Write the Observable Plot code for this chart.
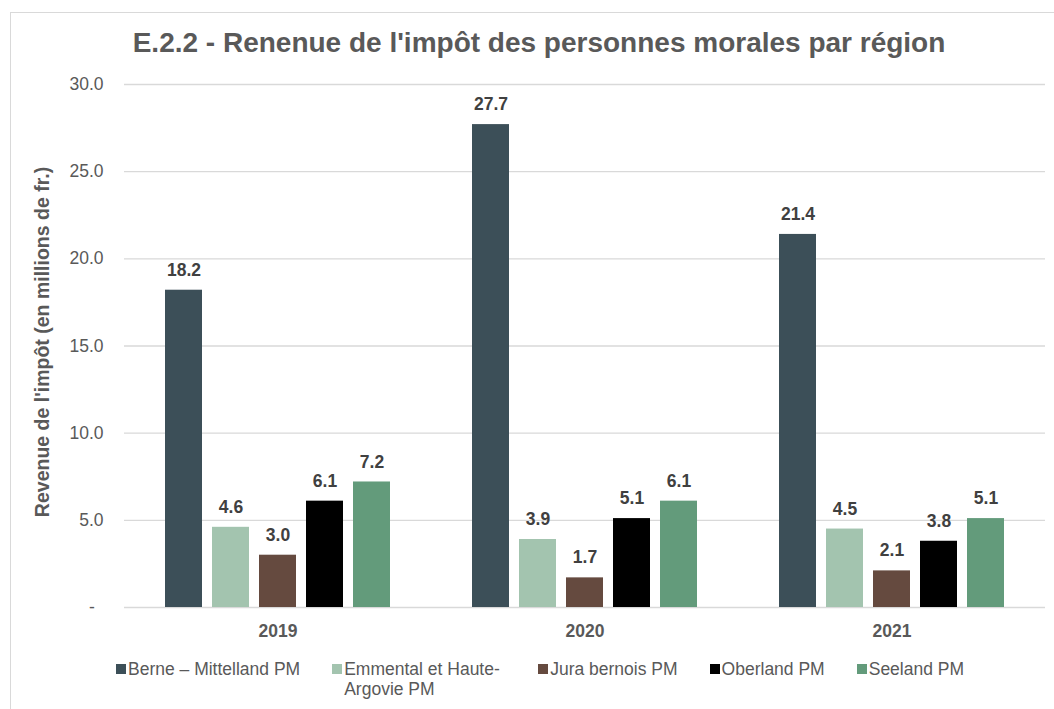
<!DOCTYPE html>
<html><head><meta charset="utf-8">
<script src="https://cdn.jsdelivr.net/npm/d3@7"></script>
<script src="https://cdn.jsdelivr.net/npm/@observablehq/plot@0.6"></script>
<style>
html,body{margin:0;padding:0;background:#fff;overflow:hidden;}
body{width:1054px;height:709px;position:relative;font-family:"Liberation Sans",Arial,sans-serif;}
#frame{position:absolute;left:10px;top:12px;width:1100px;height:760px;border:1.5px solid #d9d9d9;box-sizing:border-box;}
#title{position:absolute;left:0;width:1078px;top:27px;line-height:32px;text-align:center;font-weight:bold;font-size:28px;color:#595959;}
#chart{position:absolute;left:0;top:0;}
#ylabel{position:absolute;left:42px;top:342px;transform:translate(-50%,-50%) rotate(-90deg);white-space:nowrap;font-weight:bold;font-size:19.5px;color:#595959;}
#legend{position:absolute;left:116px;top:659px;display:flex;align-items:flex-start;font-size:17.5px;color:#595959;line-height:20px;}
.item{display:flex;align-items:flex-start;margin-right:32px;}
.item.wrap .txt{min-width:162px;}
.sw{width:10px;height:10px;margin-top:5px;margin-right:2px;flex:none;}
</style></head>
<body>
<div id="frame"></div>
<div id="chart"></div>
<div id="title">E.2.2 - Renenue de l'impôt des personnes morales par région</div>
<div id="ylabel"></div>
<div id="legend"></div>
<script>
const years = ["2019", "2020", "2021"];
const regions = ["Berne – Mittelland PM", "Emmental et Haute-Argovie PM", "Jura bernois PM", "Oberland PM", "Seeland PM"];
const legendLabels = ["Berne – Mittelland PM", "Emmental et Haute-<br>Argovie PM", "Jura bernois PM", "Oberland PM", "Seeland PM"];
const colors = ["#3c4f58", "#a3c4af", "#654a3f", "#000000", "#639b7b"];
const values2019 = [18.2, 4.6, 3.0, 6.1, 7.2];
const values2020 = [27.7, 3.9, 1.7, 5.1, 6.1];
const values2021 = [21.4, 4.5, 2.1, 3.8, 5.1];
const yTicks = [0, 5, 10, 15, 20, 25, 30];
const yLabel = "Revenue de l'impôt (en millions de fr.)";

const series = [values2019, values2020, values2021];
const data = [];
years.forEach((y, i) => regions.forEach((r, j) => data.push({year: y, region: r, value: series[i][j]})));

const chart = Plot.plot({
  width: 1054,
  height: 640,
  marginTop: 84,
  marginBottom: 33,
  marginLeft: 124,
  marginRight: 9,
  style: {fontFamily: "Liberation Sans, Arial, sans-serif", fontSize: "17.5px", color: "#595959", background: "transparent"},
  fx: {domain: years, padding: 0, label: null},
  x: {domain: regions, paddingInner: 0.21, paddingOuter: 0.87, axis: null},
  y: {domain: [0, 30], label: null},
  color: {domain: regions, range: colors},
  marks: [
    Plot.gridY(yTicks, {stroke: "#d9d9d9", strokeOpacity: 1, strokeWidth: 1.3}),
    Plot.axisY(yTicks, {tickSize: 0, tickPadding: 21, tickFormat: d => d === 0 ? "-\u2002" : d.toFixed(1), fontSize: 17.5, fill: "#595959", label: null}),
    Plot.axisFx({anchor: "bottom", tickSize: 0, tickPadding: 17, fontWeight: "bold", fontSize: 17.5, fill: "#595959", label: null}),
    Plot.barY(data, {fx: "year", x: "region", y: "value", fill: "region"}),
    Plot.text(data, {fx: "year", x: "region", y: "value", text: d => d.value.toFixed(1), dy: -20, fontWeight: "bold", fontSize: 17.5, fill: "#404040"})
  ]
});
document.getElementById("chart").appendChild(chart);
document.getElementById("ylabel").textContent = yLabel;

const lg = document.getElementById("legend");
regions.forEach((r, i) => {
  const it = document.createElement("div");
  it.className = "item" + (legendLabels[i].includes("<br>") ? " wrap" : "");
  it.innerHTML = `<div class="sw" style="background:${colors[i]}"></div><div class="txt">${legendLabels[i]}</div>`;
  lg.appendChild(it);
});
</script>
</body></html>
